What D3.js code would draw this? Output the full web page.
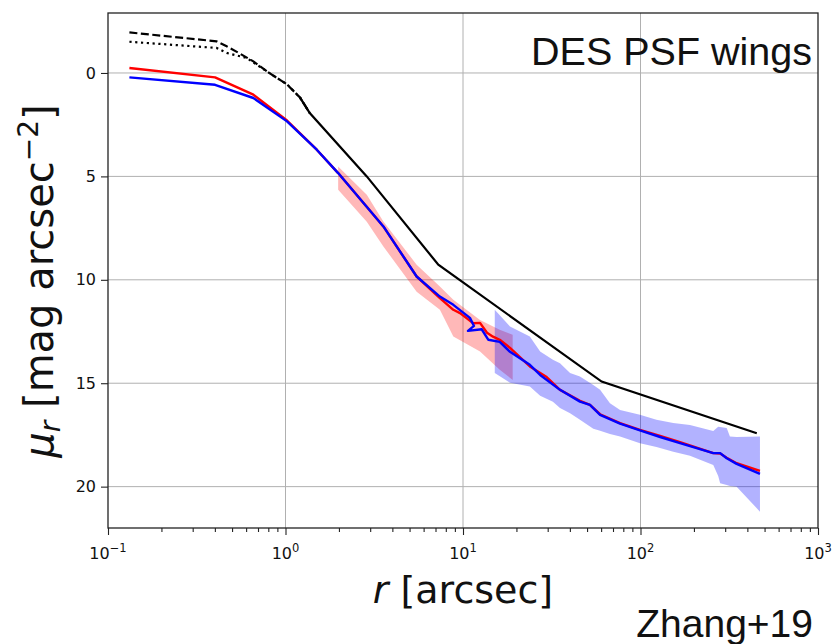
<!DOCTYPE html>
<html>
<head>
<meta charset="utf-8">
<script src="https://cdn.jsdelivr.net/npm/d3@7"></script>
<style>
  body { margin: 0; background: #fff; }
  svg text { fill: #111; }
</style>
</head>
<body>
<svg id="chart" width="836" height="644"></svg>
<script>
// Axis ticks
const xMajorTicks = [0.1, 1, 10, 100, 1000];
const xTickExponents = ["\u22121", "0", "1", "2", "3"];
const yTicks = [0, 5, 10, 15, 20];

// PSF model profiles: [r (arcsec), mu (mag arcsec^-2)]
const modelDashed = [[0.132,-1.96],[0.409,-1.53],[0.466,-1.29],[0.55,-0.95],[0.659,-0.56],[0.81,0.0],[1.02,0.55],[1.21,1.2],[1.37,1.94]];
const modelDotted = [[0.132,-1.51],[0.409,-1.21],[0.466,-0.97],[0.604,-0.73],[0.81,0.0],[1.02,0.55],[1.21,1.2],[1.37,1.94]];
const modelSolid  = [[1.21,1.2],[1.37,1.94],[2.87,5.0],[7.26,9.27],[60.4,14.92],[452,17.42]];

// Measured stacked profiles: [r, mu]
const redProfile = [[0.132,-0.24],[0.401,0.21],[0.659,1.05],[1.02,2.3],[1.5,3.71],[1.98,4.84],[3.56,7.42],[5.48,9.84],[7.41,10.89],[8.82,11.45],[9.62,11.61],[11.43,12.1],[12.47,12.08],[13.65,12.56],[14.76,12.75],[16.1,12.9],[18.4,13.29],[23.8,14.19],[29.6,14.7],[35.2,15.32],[45.6,15.85],[51.9,16.05],[59.2,16.5],[76.7,16.93],[99.3,17.26],[129,17.55],[167,17.85],[257,18.38],[281,18.4],[306,18.6],[348,18.87],[471,19.24]];
const blueProfile = [[0.132,0.21],[0.401,0.57],[0.659,1.21],[1.02,2.34],[1.5,3.71],[1.98,4.84],[3.56,7.42],[5.48,9.84],[7.41,10.81],[8.82,11.21],[10.94,11.84],[11.53,12.23],[10.67,12.47],[12.74,12.39],[13.9,12.9],[16.1,13.0],[18.4,13.48],[23.8,14.11],[27.2,14.6],[35.2,15.32],[45.6,15.89],[51.9,16.05],[59.2,16.53],[76.7,16.95],[99.3,17.28],[129,17.6],[167,17.9],[257,18.38],[281,18.38],[306,18.63],[348,18.9],[471,19.38]];

// Scatter envelopes: [r, mu_low, mu_high]
const redBand = [[1.98,4.52,5.65],[2.87,5.89,7.19],[3.56,7.18,8.39],[5.48,9.27,10.58],[7.41,10.32,11.45],[8.82,10.97,12.74],[12.47,11.94,13.47],[16.1,12.42,14.35],[19.05,12.66,14.84]];
const blueBand = [[15.1,11.45,14.51],[18.4,12.26,14.98],[23.8,12.74,15.16],[27.2,13.47,15.6],[32.1,13.87,15.9],[35.2,14.03,16.2],[40.1,14.5,16.45],[45.6,14.68,16.77],[54.2,15.08,17.2],[59.2,15.32,17.3],[67.3,15.97,17.45],[76.7,16.29,17.58],[99.3,16.53,17.9],[123,16.77,18.08],[153,16.92,18.31],[190,17.02,18.51],[257,17.31,18.95],[274,17.1,19.48],[281,17.12,19.84],[306,17.17,19.92],[319,17.58,19.97],[348,17.6,20.0],[471,17.58,21.21]];

const L = 108, R = 818, T = 13, B = 528;
const svg = d3.select("#chart");

const x = d3.scaleLog().domain([0.1, 1000]).range([L, R]);
const y = d3.scaleLinear().domain([-2.9, 22.0]).range([T, B]);

// grid
const grid = svg.append("g").attr("stroke", "#b0b0b0").attr("stroke-width", 1);
xMajorTicks.slice(1, -1).forEach(v => {
  grid.append("line").attr("x1", x(v)).attr("x2", x(v)).attr("y1", T).attr("y2", B);
});
yTicks.forEach(v => {
  grid.append("line").attr("x1", L).attr("x2", R).attr("y1", y(v)).attr("y2", y(v));
});

// envelopes
const area = d3.area().x(d => x(d[0])).y0(d => y(d[1])).y1(d => y(d[2]));
svg.append("path").datum(redBand).attr("d", area)
  .attr("fill", "#ff0000").attr("fill-opacity", 0.28);
svg.append("path").datum(blueBand).attr("d", area)
  .attr("fill", "#0000ff").attr("fill-opacity", 0.3);

// profiles
const line = d3.line().x(d => x(d[0])).y(d => y(d[1]));
svg.append("path").datum(modelSolid).attr("d", line)
  .attr("fill", "none").attr("stroke", "#000").attr("stroke-width", 2.2);
svg.append("path").datum(modelDashed).attr("d", line)
  .attr("fill", "none").attr("stroke", "#000").attr("stroke-width", 2.2)
  .attr("stroke-dasharray", "8,3.5");
svg.append("path").datum(modelDotted).attr("d", line)
  .attr("fill", "none").attr("stroke", "#000").attr("stroke-width", 2.2)
  .attr("stroke-dasharray", "2.2,3.6");
svg.append("path").datum(redProfile).attr("d", line)
  .attr("fill", "none").attr("stroke", "#ff0000").attr("stroke-width", 2.4)
  .attr("stroke-linejoin", "round");
svg.append("path").datum(blueProfile).attr("d", line)
  .attr("fill", "none").attr("stroke", "#0000ff").attr("stroke-width", 2.4)
  .attr("stroke-linejoin", "round");

// frame
svg.append("rect").attr("x", L).attr("y", T).attr("width", R - L).attr("height", B - T)
  .attr("fill", "none").attr("stroke", "#222").attr("stroke-width", 1.3);

// x axis
const xMinor = [];
[0.1, 1, 10, 100].forEach(dec => { for (let k = 2; k <= 9; k++) xMinor.push(k * dec); });
const xAxisMajor = svg.append("g").attr("transform", `translate(0,${B})`)
  .call(d3.axisBottom(x).tickValues(xMajorTicks).tickSize(7).tickFormat(""));
const xAxisMinor = svg.append("g").attr("transform", `translate(0,${B})`)
  .call(d3.axisBottom(x).tickValues(xMinor).tickSize(4).tickFormat(""));
[xAxisMajor, xAxisMinor].forEach(g => {
  g.select(".domain").remove();
  g.selectAll("line").attr("stroke", "#222").attr("stroke-width", 1.1);
});
xMajorTicks.forEach((v, i) => {
  const t = svg.append("text").attr("x", x(v)).attr("y", 559)
    .attr("text-anchor", "middle")
    .attr("font-family", "DejaVu Sans").attr("font-size", 16);
  t.append("tspan").text("10");
  t.append("tspan").attr("dy", -7).attr("font-size", 11.5).text(xTickExponents[i]);
});

// y axis
const yAxis = svg.append("g").attr("transform", `translate(${L},0)`)
  .call(d3.axisLeft(y).tickValues(yTicks).tickSize(7).tickPadding(5));
yAxis.select(".domain").remove();
yAxis.selectAll("line").attr("stroke", "#222").attr("stroke-width", 1.1);
yAxis.selectAll("text").attr("font-family", "DejaVu Sans").attr("font-size", 16).attr("fill", "#111");

// axis titles
const xl = svg.append("text").attr("x", (L + R) / 2).attr("y", 603)
  .attr("text-anchor", "middle").attr("font-family", "DejaVu Sans").attr("font-size", 38);
xl.append("tspan").attr("font-style", "italic").text("r");
xl.append("tspan").text(" [arcsec]");

const yl = svg.append("text").attr("transform", `translate(53,281) rotate(-90)`)
  .attr("text-anchor", "middle").attr("font-family", "DejaVu Sans").attr("font-size", 40);
yl.append("tspan").attr("font-style", "italic").text("\u03bc");
yl.append("tspan").attr("font-style", "italic").attr("font-size", 28).attr("dy", 7).text("r");
yl.append("tspan").attr("dy", -7).text(" [mag arcsec");
yl.append("tspan").attr("font-size", 28).attr("dy", -15).text("\u22122");
yl.append("tspan").attr("dy", 15).text("]");

// annotations
svg.append("text").attr("x", 812).attr("y", 65).attr("text-anchor", "end")
  .attr("font-family", "Liberation Sans").attr("font-size", 39.5).attr("fill", "#000")
  .text("DES PSF wings");
svg.append("text").attr("x", 813).attr("y", 637).attr("text-anchor", "end")
  .attr("font-family", "Liberation Sans").attr("font-size", 39).attr("fill", "#000")
  .text("Zhang+19");
</script>
</body>
</html>
